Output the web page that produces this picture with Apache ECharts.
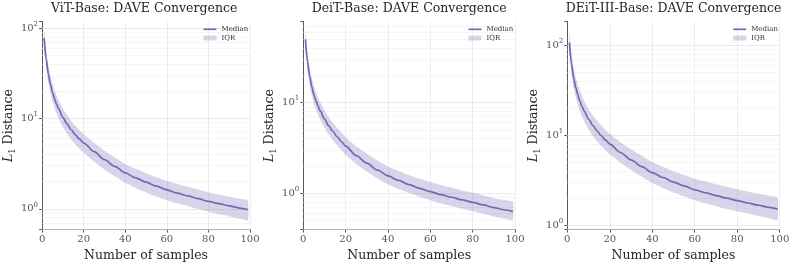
<!DOCTYPE html>
<html><head><meta charset="utf-8">
<script src="https://cdn.jsdelivr.net/npm/echarts@6/dist/echarts.min.js"></script>
<style>html,body{margin:0;padding:0;background:#fff}#c{width:793px;height:267px}</style>
</head><body><div id="c"></div>
<script>
// ---- data ----
const samples = [1,2,3,4,5,6,7,8,10,12,14,16,18,20,25,30,35,40,45,50,55,60,65,70,75,80,85,90,95,99];
const titles = ['ViT-Base: DAVE Convergence', 'DeiT-Base: DAVE Convergence', 'DEiT-III-Base: DAVE Convergence'];

const vitMedian = [78,45,31,24,19.5,16.5,14.3,12.7,10.3,8.7,7.5,6.6,5.9,5.35,4.3,3.5,2.95,2.5,2.2,1.97,1.78,1.62,1.49,1.39,1.3,1.21,1.14,1.08,1.02,0.98];
const vitQ3 = [93,55,38.5,30,24.3,20.6,17.9,15.9,12.9,10.9,9.4,8.3,7.4,6.7,5.4,4.4,3.7,3.14,2.77,2.48,2.24,2.04,1.88,1.75,1.64,1.53,1.44,1.36,1.29,1.24];
const vitQ1 = [64,36.5,25,19.2,15.5,13.1,11.3,10.0,8.1,6.8,5.85,5.15,4.6,4.17,3.35,2.72,2.29,1.94,1.7,1.52,1.37,1.25,1.15,1.07,1.0,0.93,0.875,0.83,0.78,0.75];

const deitMedian = [50,28.5,19.5,15,12.2,10.5,9.1,8.1,6.6,5.55,4.8,4.2,3.72,3.3,2.6,2.15,1.8,1.55,1.38,1.24,1.13,1.04,0.96,0.9,0.84,0.79,0.74,0.69,0.655,0.625];
const deitQ3 = [62,35.5,24.3,18.7,15.2,13.1,11.4,10.1,8.25,6.95,6.0,5.27,4.67,4.15,3.3,2.73,2.29,1.97,1.76,1.58,1.44,1.33,1.23,1.15,1.07,1.01,0.945,0.88,0.838,0.8];
const deitQ1 = [41,23,15.7,12.1,9.8,8.4,7.3,6.5,5.3,4.45,3.84,3.36,2.98,2.64,2.1,1.73,1.45,1.25,1.11,1.0,0.91,0.835,0.77,0.72,0.672,0.632,0.592,0.553,0.525,0.503];

const deit3Median = [108,62,43,34,28,23.8,20.8,18.5,15.2,12.9,11.2,9.9,8.85,8.0,6.45,5.35,4.5,3.85,3.4,3.02,2.74,2.48,2.3,2.14,2.0,1.88,1.77,1.67,1.58,1.51];
const deit3Q3 = [145,82,56.5,44.5,36.5,31,27,24,19.7,16.7,14.5,12.8,11.5,10.4,8.4,7.0,5.9,5.05,4.47,3.98,3.62,3.3,3.07,2.86,2.68,2.52,2.38,2.25,2.13,2.04];
const deit3Q1 = [84,48,33.2,26.2,21.6,18.3,16,14.2,11.7,9.9,8.6,7.6,6.8,6.2,4.98,4.12,3.46,2.96,2.6,2.31,2.09,1.9,1.76,1.63,1.52,1.43,1.35,1.27,1.2,1.14];

const xTicks = [0,20,40,60,80,100];
const yMajorTicks = [0.1,1,10,100,1000];
const yMinorTicks = [0.2,0.3,0.4,0.5,0.6,0.7,0.8,0.9,2,3,4,5,6,7,8,9,20,30,40,50,60,70,80,90,200,300];
const yLimits = [[0.589,118.4],[0.395,78.9],[0.895,184.8]];

const panels = [
  {median: vitMedian, q1: vitQ1, q3: vitQ3},
  {median: deitMedian, q1: deitQ1, q3: deitQ3},
  {median: deit3Median, q1: deit3Q1, q3: deit3Q3}
];

// ---- styling / layout ----
const FONT = 'DejaVu Serif';
const LINE = '#7866b5';
const BAND = 'rgba(120,102,181,0.28)';
const SPINE = '#5a5a5a';
const layout = [
  {left: 38.3, width: 211.7},
  {left: 303.3, width: 211.7},
  {left: 567.3, width: 212.4}
];
const TOP = 21.5, HEIGHT = 213;

function logLabel(v) {
  const e = Math.log10(v), r = Math.round(e);
  if (Math.abs(e - r) > 1e-6) return '';
  return '{b|10}{s|' + r + '}';
}

function bandRenderer(p) {
  return function (params, api) {
    if (params.dataIndex !== 0) return null;
    const upper = samples.map((x, k) => api.coord([x, p.q3[k]]));
    const lower = samples.map((x, k) => api.coord([x, p.q1[k]])).reverse();
    return {
      type: 'polygon', shape: {points: upper.concat(lower), smooth: 0.15},
      style: {fill: BAND, stroke: null}, silent: true
    };
  };
}

const grid = [], xAxis = [], yAxis = [], series = [], title = [], legend = [];
panels.forEach((p, i) => {
  const L = layout[i];
  const [ymin, ymax] = yLimits[i];
  const legendLeft = L.left + L.width - 46.5;
  grid.push({left: L.left, top: TOP, width: L.width, height: HEIGHT, containLabel: false});
  title.push({
    text: titles[i], left: L.left + L.width / 2, textAlign: 'center', top: 2, padding: 0,
    textStyle: {fontFamily: FONT, fontSize: 12.5, fontWeight: 'normal', color: '#262626'}
  });
  legend.push({
    orient: 'vertical', left: legendLeft, top: 25.8, padding: 0, align: 'left',
    itemWidth: 13, itemHeight: 1.7, selectedMode: false,
    textStyle: {fontFamily: FONT, fontSize: 7, color: '#333'},
    data: [{name: 'Median', icon: 'rect', itemStyle: {color: LINE, borderWidth: 0}}]
  });
  legend.push({
    orient: 'vertical', left: legendLeft, top: 34.5, padding: 0, align: 'left',
    itemWidth: 13, itemHeight: 5, selectedMode: false,
    textStyle: {fontFamily: FONT, fontSize: 7, color: '#333'},
    data: [{name: 'IQR', icon: 'rect', itemStyle: {color: BAND, borderWidth: 0}}]
  });
  xAxis.push({
    type: 'value', gridIndex: i, min: xTicks[0], max: xTicks[xTicks.length - 1], interval: xTicks[1] - xTicks[0],
    name: 'Number of samples', nameLocation: 'middle', nameGap: 15.5,
    nameTextStyle: {fontFamily: FONT, fontSize: 12.5, color: '#262626'},
    axisLine: {lineStyle: {color: SPINE, width: 1}},
    axisTick: {show: true, length: 3, lineStyle: {color: SPINE}},
    axisLabel: {fontFamily: FONT, fontSize: 10, color: '#555', margin: 4.5},
    splitLine: {show: true, lineStyle: {color: '#e8e8e8', width: 0.8}}
  });
  yAxis.push({
    type: 'log', logBase: 10, gridIndex: i, min: ymin, max: ymax,
    name: '{i|L}{s|1} Distance', nameLocation: 'middle', nameGap: 19.5,
    nameTextStyle: {fontFamily: FONT, fontSize: 12.5, color: '#262626', lineHeight: 16,
      rich: {i: {fontFamily: FONT, fontStyle: 'italic', fontSize: 12.5, color: '#262626', lineHeight: 16},
             s: {fontFamily: FONT, fontSize: 8.5, color: '#262626', verticalAlign: 'bottom'}}},
    axisLine: {show: true, lineStyle: {color: SPINE, width: 1}},
    axisTick: {show: true, length: 3, lineStyle: {color: SPINE}},
    axisLabel: {formatter: logLabel, margin: 4, color: '#555',
      rich: {b: {fontFamily: FONT, fontSize: 10, color: '#555', lineHeight: 15},
             s: {fontFamily: FONT, fontSize: 7, color: '#555', verticalAlign: 'top'}}},
    splitLine: {show: false}
  });
  const gridLines = [];
  yMajorTicks.filter(v => v > ymin && v < ymax).forEach(v => gridLines.push({yAxis: v, lineStyle: {color: '#e4e4e4', width: 0.8, type: 'solid'}}));
  yMinorTicks.filter(v => v > ymin && v < ymax).forEach(v => gridLines.push({yAxis: v, lineStyle: {color: '#eeeeee', width: 0.6, type: 'solid'}}));
  series.push({
    name: 'IQR', type: 'custom', xAxisIndex: i, yAxisIndex: i, z: 3, silent: true,
    color: BAND, itemStyle: {color: BAND},
    data: samples.map((x, k) => [x, p.q1[k], p.q3[k]]),
    encode: {x: 0, y: [1, 2]},
    renderItem: bandRenderer(p),
    markLine: {silent: true, symbol: ['none', 'none'], label: {show: false}, z: 1, animation: false,
      emphasis: {disabled: true}, data: gridLines}
  });
  series.push({
    name: 'Median', type: 'line', xAxisIndex: i, yAxisIndex: i, silent: true, z: 4,
    data: samples.map((x, k) => [x, p.median[k]]),
    symbol: 'none', smooth: 0.3, smoothMonotone: 'x', color: LINE,
    lineStyle: {color: LINE, width: 1.7}
  });
});

const chart = echarts.init(document.getElementById('c'), null, {renderer: 'canvas'});
chart.setOption({backgroundColor: '#fff', animation: false, title, legend, grid, xAxis, yAxis, series});
</script></body></html>
